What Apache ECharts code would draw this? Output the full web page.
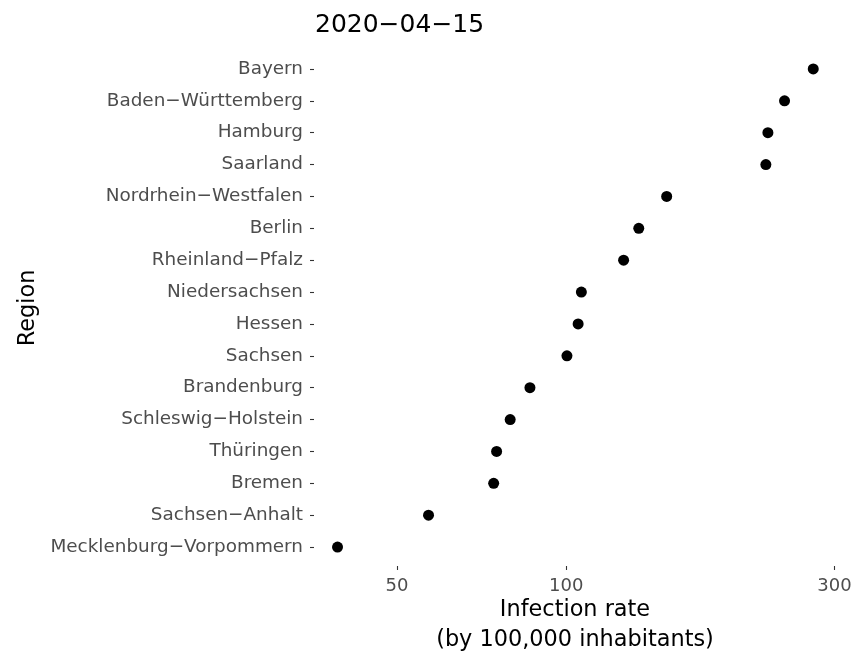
<!DOCTYPE html>
<html>
<head>
<meta charset="utf-8">
<script src="https://cdn.jsdelivr.net/npm/echarts@6/dist/echarts.min.js"></script>
<style>
  html, body { margin: 0; padding: 0; background: #ffffff; }
  #chart { width: 864px; height: 658px; }
</style>
</head>
<body>
<div id="chart"></div>
<script>
// Federal states, listed top to bottom
const regions = [
  'Bayern',
  'Baden\u2212Württemberg',
  'Hamburg',
  'Saarland',
  'Nordrhein\u2212Westfalen',
  'Berlin',
  'Rheinland\u2212Pfalz',
  'Niedersachsen',
  'Hessen',
  'Sachsen',
  'Brandenburg',
  'Schleswig\u2212Holstein',
  'Thüringen',
  'Bremen',
  'Sachsen\u2212Anhalt',
  'Mecklenburg\u2212Vorpommern'
];

// Infection rate per 100,000 inhabitants on 2020-04-15
const rates = [
  275.0, 244.5, 228.4, 226.5, 150.9, 134.6, 126.5, 106.4,
  105.0, 100.3, 86.2, 79.5, 75.2, 74.3, 56.9, 39.2
];

// Log-scale tick labels
const xTicks = [50, 100, 300];

const chartTitle = '2020\u221204\u221215';
const xTitle = 'Infection rate\n(by 100,000 inhabitants)';
const yTitle = 'Region';

const FONT = '"DejaVu Sans", "Liberation Sans", Arial, sans-serif';

const chart = echarts.init(document.getElementById('chart'), null, { renderer: 'canvas' });

chart.setOption({
  backgroundColor: '#ffffff',
  animation: false,
  textStyle: { fontFamily: FONT },
  title: [
    {
      text: chartTitle,
      left: 310,
      top: 8,
      textStyle: { fontFamily: FONT, fontSize: 25, fontWeight: 'normal', color: '#000000' }
    },
    {
      text: xTitle,
      left: 570,
      top: 590,
      textAlign: 'center',
      textStyle: {
        fontFamily: FONT, fontSize: 22.4, fontWeight: 'normal', color: '#000000',
        lineHeight: 30, align: 'center'
      }
    }
  ],
  grid: {
    left: 314,
    right: 864 - 837,
    top: 53,
    height: 510,
    containLabel: false
  },
  xAxis: {
    type: 'log',
    logBase: 10,
    min: 35.6,
    max: 303.1,
    offset: 3,
    axisLine: { show: false },
    splitLine: { show: false },
    minorTick: { show: false },
    axisTick: {
      show: true,
      length: 4,
      customValues: xTicks,
      lineStyle: { color: '#333333', width: 1.1 }
    },
    axisLabel: {
      customValues: xTicks,
      margin: 11,
      fontFamily: FONT,
      fontSize: 18,
      color: '#4D4D4D',
      formatter: v => String(v)
    }
  },
  yAxis: {
    type: 'category',
    data: regions,
    inverse: true,
    boundaryGap: true,
    name: yTitle,
    nameLocation: 'middle',
    nameRotate: 90,
    nameGap: 274,
    nameTextStyle: { fontFamily: FONT, fontSize: 22.4, color: '#000000' },
    axisLine: { show: false },
    splitLine: { show: false },
    axisTick: {
      show: true,
      alignWithLabel: true,
      length: 4,
      lineStyle: { color: '#333333', width: 1.1 }
    },
    axisLabel: {
      margin: 11,
      fontFamily: FONT,
      fontSize: 18.4,
      color: '#4D4D4D'
    }
  },
  series: [
    {
      type: 'scatter',
      data: rates.map((v, i) => [v, regions[i]]),
      symbol: 'circle',
      symbolSize: 11,
      itemStyle: { color: '#000000', opacity: 1 },
      emphasis: { disabled: true }
    }
  ]
});
</script>
</body>
</html>
